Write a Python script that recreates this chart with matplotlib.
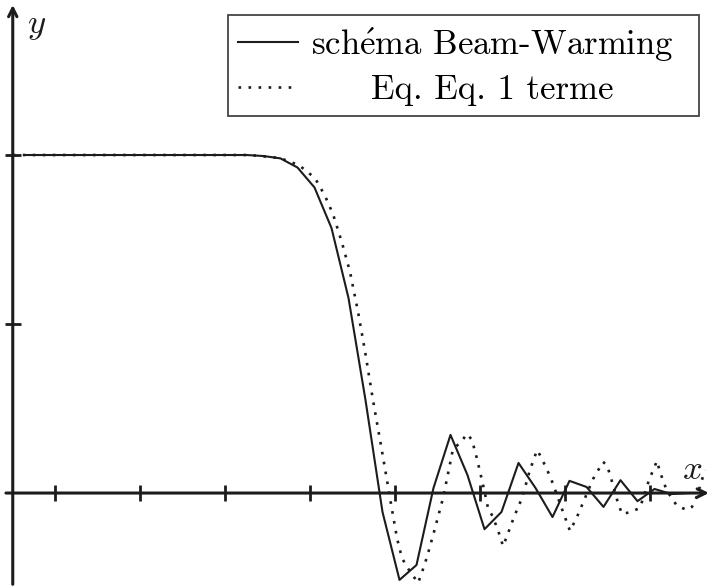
import matplotlib
matplotlib.use("Agg")
import matplotlib.pyplot as plt
import numpy as np

plt.rcParams['font.family'] = ['cmr10', 'DejaVu Serif']
plt.rcParams['mathtext.fontset'] = 'cm'
plt.rcParams['axes.formatter.use_mathtext'] = True

# schema Beam-Warming : valeurs aux noeuds (pas 0.2)
bw_x = np.round(np.arange(0.15, 8.0, 0.2), 2)
bw_y = [1.0, 1.0, 1.0, 1.0, 1.0, 1.0, 1.0, 1.0, 1.0, 1.0,
        1.0, 1.0, 1.0, 1.0, 0.997, 0.990, 0.963, 0.904, 0.784, 0.577,
        0.275, -0.056, -0.257, -0.213, 0.015, 0.172, 0.053, -0.107, -0.056, 0.089,
        0.015, -0.071, 0.036, 0.018, -0.041, 0.038, -0.024, 0.012, -0.003, 0.0]

# equation equivalente, 1 terme
eq_x = [0.0, 2.791, 3.144, 3.368, 3.556, 3.674, 3.768, 3.874, 3.968, 4.062,
        4.144, 4.238, 4.321, 4.403, 4.438, 4.521, 4.579, 4.638, 4.697, 4.768,
        4.803, 4.874, 4.968, 5.062, 5.132, 5.179, 5.274, 5.344, 5.403, 5.462,
        5.544, 5.591, 5.650, 5.732, 5.768, 5.815, 5.897, 5.991, 6.085, 6.168,
        6.215, 6.309, 6.356, 6.474, 6.556, 6.638, 6.732, 6.826, 6.944, 6.991,
        7.062, 7.121, 7.168, 7.274, 7.379, 7.485, 7.579, 7.615, 7.697, 7.815,
        7.932, 7.991, 8.050, 8.144]
eq_y = [1.0, 1.0, 0.991, 0.970, 0.932, 0.879, 0.825, 0.740, 0.654, 0.536,
        0.420, 0.275, 0.157, 0.038, -0.015, -0.134, -0.192, -0.219, -0.240, -0.266,
        -0.243, -0.189, -0.104, -0.015, 0.071, 0.130, 0.151, 0.175, 0.157, 0.101,
        0.012, -0.044, -0.071, -0.127, -0.157, -0.127, -0.071, -0.015, 0.068, 0.127,
        0.107, 0.056, 0.027, -0.056, -0.112, -0.071, -0.015, 0.041, 0.092, 0.083,
        0.024, -0.030, -0.062, -0.056, -0.044, 0.038, 0.095, 0.062, 0.006, -0.038,
        -0.050, -0.041, -0.009, 0.068]

xticks = [0.5, 1.5, 2.5, 3.5, 4.5, 5.5, 6.5, 7.5]
yticks = [0.5, 1.0]

INK = '#1c1c1c'

fig = plt.figure(figsize=(7.1, 5.87), dpi=100)
ax = fig.add_axes([0, 0, 1, 1])
ax.set_xlim(-0.15, 8.203)
ax.set_ylim(-0.278, 1.4586)

for s in ax.spines.values():
    s.set_visible(False)
ax.spines['bottom'].set_position(('data', 0))
ax.spines['left'].set_position(('data', 0))

# axes avec fleches
ax.annotate('', xy=(8.19, 0), xytext=(-0.08, 0),
            arrowprops=dict(arrowstyle='->,head_length=0.6,head_width=0.3', lw=2.2, color=INK,
                            shrinkA=0, shrinkB=0))
ax.annotate('', xy=(0, 1.444), xytext=(0, -0.27),
            arrowprops=dict(arrowstyle='->,head_length=0.6,head_width=0.3', lw=2.2, color=INK,
                            shrinkA=0, shrinkB=0))

ax.set_xticks(xticks)
ax.set_yticks(yticks)
ax.tick_params(direction='inout', length=11.5, width=2.0, color=INK,
               labelbottom=False, labelleft=False)

ax.plot(bw_x, bw_y, color=INK, lw=1.5, label=r'sch$\mathrm{\acute{e}}$ma Beam-Warming', zorder=3)
ax.plot(eq_x, eq_y, color=INK, lw=1.9, linestyle=(0, (1, 2.8)),
        label='Eq. Eq. 1 terme', zorder=3)

ax.text(0.17, 1.38, r'$y$', fontsize=25, ha='left', va='center', color=INK)
ax.text(7.99, 0.068, r'$x$', fontsize=25, ha='center', va='center', color=INK)

leg = ax.legend(loc='upper right', bbox_to_anchor=(0.9845, 0.9744), borderaxespad=0,
                fontsize=25, fancybox=False, framealpha=1, edgecolor='#444444',
                handlelength=1.73, handletextpad=0.8, borderpad=0.3, labelspacing=0.31)
leg.get_frame().set_linewidth(1.3)

# centrage du deuxieme libelle, decalage vers la gauche
fig.canvas.draw()
r = fig.canvas.get_renderer()
t0, t1 = leg.get_texts()
w0 = t0.get_window_extent(r).width
w1 = t1.get_window_extent(r).width
shift = -15
t0.set_x(shift)
t1.set_x(shift + (w0 - w1) / 2)

fig.savefig('out.png', dpi=100)
